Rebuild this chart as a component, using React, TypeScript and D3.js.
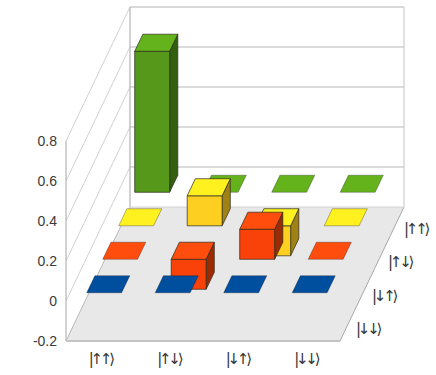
import * as d3 from 'd3'

const colLabels = ['|↑↑⟩', '|↑↓⟩', '|↓↑⟩', '|↓↓⟩']
const rowLabels = ['|↑↑⟩', '|↑↓⟩', '|↓↑⟩', '|↓↓⟩']
const yTicks = [-0.2, 0, 0.2, 0.4, 0.6, 0.8]

// rows run back to front, same order as the labels
const rowUU = [0.705, 0, 0, 0]
const rowUD = [0, 0.15, -0.15, 0]
const rowDU = [0, -0.15, 0.15, 0]
const rowDD = [0, 0, 0, 0]
const matrix = [rowUU, rowUD, rowDU, rowDD]

const ROW_COLORS = [
  { top: '#64b31c', front: '#55981a', side: '#345f10' },
  { top: '#fff01f', front: '#fccf21', side: '#9f8115' },
  { top: '#ff4d0d', front: '#f9410a', side: '#9b2b05' },
  { top: '#004f9e', front: '#00458a', side: '#002f5e' },
]

const INSET = 0.245
const N = 4

const xs = d3.scaleLinear().domain([0, N]).range([66, 340])
const ys = d3.scaleLinear().domain([-0.2, 0.8]).range([341, 141])
const depthX = d3.scaleLinear().domain([0, N]).range([0, 64])
const depthY = d3.scaleLinear().domain([0, N]).range([0, 134])

// oblique projection: column, depth (0 = front), value
const project = (c: number, d: number, v: number): [number, number] => [
  xs(c) + depthX(d),
  ys(v) - depthY(d),
]
const poly = d3.line().curve(d3.curveLinearClosed)
const fmt = (v: number) => (v === 0 ? '0' : String(v))

function Bar({ col, row, value }: { col: number; row: number; value: number }) {
  const colors = ROW_COLORS[row]
  const d0 = N - 1 - row + INSET
  const d1 = N - row - INSET
  const c0 = col + INSET
  const c1 = col + 1 - INSET
  const hi = Math.max(value, 0)
  const lo = Math.min(value, 0)
  const edge = value === 0 ? 'rgba(0,0,0,0.4)' : '#2a2a1a'
  return (
    <g strokeLinejoin="round">
      {value !== 0 && (
        <>
          <path
            d={poly([project(c1, d0, hi), project(c1, d1, hi), project(c1, d1, lo), project(c1, d0, lo)])!}
            fill={colors.side}
            stroke={edge}
            strokeWidth={0.7}
          />
          <path
            d={poly([project(c0, d0, hi), project(c1, d0, hi), project(c1, d0, lo), project(c0, d0, lo)])!}
            fill={colors.front}
            stroke={edge}
            strokeWidth={0.7}
          />
        </>
      )}
      <path
        d={poly([project(c0, d0, hi), project(c1, d0, hi), project(c1, d1, hi), project(c0, d1, hi)])!}
        fill={colors.top}
        stroke={edge}
        strokeWidth={0.7}
      />
    </g>
  )
}

export default function App() {
  const svgLine = (a: [number, number], b: [number, number], stroke: string, w: number, key: string) => (
    <line key={key} x1={a[0]} y1={a[1]} x2={b[0]} y2={b[1]} stroke={stroke} strokeWidth={w} />
  )
  const top = yTicks[yTicks.length - 1]
  const bottom = yTicks[0]
  const ketFont = "'DejaVu Sans', sans-serif"

  return (
    <svg
      width={436}
      height={375}
      style={{ position: 'absolute', left: 0, top: 0, background: '#fff' }}
      fontFamily="'Liberation Sans', Arial, sans-serif"
    >
      {/* side wall */}
      {yTicks.slice(1).map(v => svgLine(project(0, 0, v), project(0, N, v), '#d2d2d2', 1, `s${v}`))}
      {svgLine(project(0, 0, bottom), project(0, 0, top), '#b4b4b4', 1.2, 'left')}

      {/* back wall */}
      {yTicks.slice(1, -1).map(v => svgLine(project(0, N, v), project(N, N, v), '#cfcfcf', 1.6, `b${v}`))}
      {svgLine(project(0, N, top), project(N, N, top), '#b4b4b4', 1.2, 'backtop')}
      {svgLine(project(0, N, bottom), project(0, N, top), '#b4b4b4', 1.2, 'backl')}
      {svgLine(project(N, N, bottom), project(N, N, top), '#cfcfcf', 1.2, 'backr')}

      {/* floor */}
      <path
        d={poly([project(0, 0, bottom), project(N, 0, bottom), project(N, N, bottom), project(0, N, bottom)])!}
        fill="#e8e8e8"
      />
      {svgLine(project(0, 0, bottom), project(0, N, bottom), '#b8b8b8', 1, 'fl')}
      {svgLine(project(N, 0, bottom), project(N, N, bottom), '#a8a8a8', 1, 'fr')}
      {svgLine(project(0, 0, bottom), project(N, 0, bottom), '#c4c4c4', 2, 'ff')}
      {svgLine(project(0, N, bottom), project(N, N, bottom), '#d4d4d4', 1, 'fb')}

      {/* bars, back row first */}
      {matrix.map((values, row) =>
        values.map((value, col) => <Bar key={`${row}-${col}`} col={col} row={row} value={value} />),
      )}

      {/* tick labels */}
      {yTicks.map(v => (
        <text key={v} x={57} y={ys(v)} dy="0.36em" textAnchor="end" fontSize={14} fill="#3a3a3a">
          {fmt(v)}
        </text>
      ))}
      <g opacity={0.99} fontFamily={ketFont} fontSize={15} fill="#333" letterSpacing={-3.2}>
        {colLabels.map((label, i) => (
          <text key={i} x={xs(i + 0.5)} y={364} textAnchor="middle">
            {label}
          </text>
        ))}
        {rowLabels.map((label, i) => {
          const [px, py] = project(N, N - 1 - i + 0.5, bottom)
          return (
            <text key={i} x={px + 8} y={py + 10}>
              {label}
            </text>
          )
        })}
      </g>
    </svg>
  )
}
